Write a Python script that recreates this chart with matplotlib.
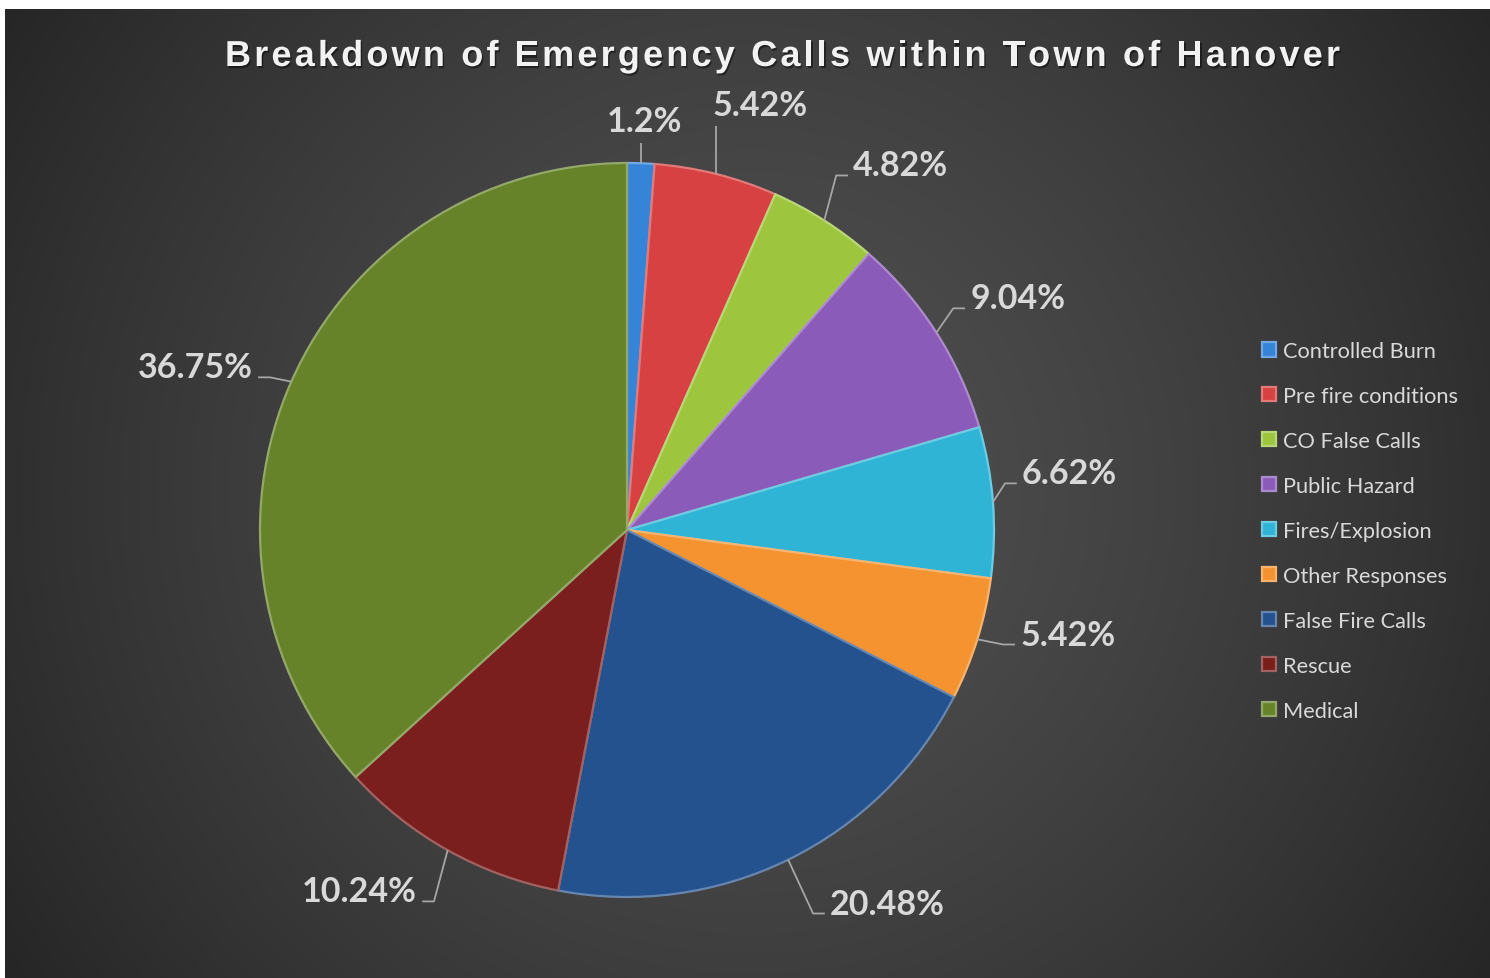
import numpy as np
import matplotlib
matplotlib.use('Agg')
import matplotlib.pyplot as plt
import matplotlib.patheffects as pe
import matplotlib.colors as mcolors
from matplotlib.font_manager import FontProperties, findfont
from matplotlib.ft2font import FT2Font

# ---------------- data ----------------
categories = ['Controlled Burn', 'Pre fire conditions', 'CO False Calls',
              'Public Hazard', 'Fires/Explosion', 'Other Responses',
              'False Fire Calls', 'Rescue', 'Medical']
values = [1.2, 5.42, 4.82, 9.04, 6.62, 5.42, 20.48, 10.24, 36.75]
pct_labels = [f"{v:g}%" for v in values]
colors = ['#3584d8', '#d74141', '#9dc63e', '#8a5bb8', '#2fb4d6',
          '#f59331', '#24528e', '#7b1e1e', '#66832a']
title = 'Breakdown of Emergency Calls within Town of Hanover'

# ---------------- layout ----------------
W, H, DPI = 1490, 979, 100
CX, CY, R = 627, 531, 367          # pie centre / radius in pixels
# label anchor (data units, baseline), horizontal alignment
label_layout = [
    (0.048, 1.086, 'center'),
    (0.362, 1.132, 'center'),
    (0.616, 0.966, 'left'),
    (0.935, 0.604, 'left'),
    (1.076, 0.127, 'left'),
    (1.071, -0.312, 'left'),
    (0.553, -1.045, 'left'),
    (-0.572, -1.012, 'right'),
    (-1.019, 0.416, 'right'),
]
LABEL_FONT = 'Lato'
TEXT_COL = '#d9d9d9'
LINE_COL = '#a6a6a6'

fig = plt.figure(figsize=(W / DPI, H / DPI), dpi=DPI, facecolor='white')

# background radial gradient (white margin top/left)
bg = fig.add_axes([5 / W, 0, (W - 5) / W, (H - 10) / H])
yy, xx = np.mgrid[10:H, 5:W]
rr = np.hypot(xx - 750, (yy - 490) * 1.0) / 886
v = 0x50 - (0x50 - 0x26) * np.clip(rr, 0, 1.1) ** 1.4
v = np.clip(v / 255, 0, 1)
bg.imshow(np.dstack([v, v, v]), aspect='auto', interpolation='bilinear')
bg.axis('off')

ax = fig.add_axes([0, 0, 1, 1])
ax.set_facecolor('none')


def lighten(c, f):
    r, g, b = mcolors.to_rgb(c)
    return (r + (1 - r) * f, g + (1 - g) * f, b + (1 - b) * f)


wedges, _ = ax.pie(values, colors=colors, startangle=90, counterclock=False,
                   radius=1.0, wedgeprops=dict(linewidth=1.6))
for w, c in zip(wedges, colors):
    w.set_edgecolor(lighten(c, 0.3))

ax.set_xlim((0 - CX) / R, (W - CX) / R)
ax.set_ylim((CY - H) / R, CY / R)
ax.set_aspect('auto')
ax.axis('off')

for w, txt, (lx, ly, ha) in zip(wedges, pct_labels, label_layout):
    mid = np.deg2rad((w.theta1 + w.theta2) / 2)
    px, py = np.cos(mid), np.sin(mid)
    ax.text(lx, ly, txt, ha=ha, va='baseline', fontsize=24.5, fontweight='bold',
            family=LABEL_FONT, color=TEXT_COL)
    if ha == 'center':
        xs, ys = [px, px], [py, ly - 0.031]
    elif ha == 'left':
        xs, ys = [px, lx - 0.046, lx - 0.014], [py, ly, ly]
    else:
        xs, ys = [px, lx + 0.046, lx + 0.014], [py, ly, ly]
    ax.plot(xs, ys, color=LINE_COL, lw=1.3, solid_capstyle='butt')

# ---------------- title with letter spacing ----------------
TSIZE = 26
fp = FontProperties(family='Liberation Sans', weight='bold', size=TSIZE)
font = FT2Font(findfont(fp))
font.set_size(TSIZE, DPI)
advs = []
for ch in title:
    g = font.load_char(ord(ch))
    advs.append(g.linearHoriAdvance / 65536)
T_LEFT, T_WIDTH, T_BASE = 225, 1115, 67
spacing = (T_WIDTH - sum(advs)) / (len(title) - 1)
x = T_LEFT
shadow = [pe.withSimplePatchShadow(offset=(1.0, -1.5), shadow_rgbFace='black', alpha=0.45)]
for ch, a in zip(title, advs):
    if ch != ' ':
        fig.text(x / W, 1 - T_BASE / H, ch, fontproperties=fp, color='#f2f2f2',
                 ha='left', va='baseline', path_effects=shadow)
    x += a + spacing

# ---------------- legend ----------------
leg = fig.legend(wedges, categories, loc='center left',
                 bbox_to_anchor=(1262 / W, 1 - 532 / H), frameon=False,
                 prop=FontProperties(family=LABEL_FONT, size=15.7),
                 labelcolor=TEXT_COL, handlelength=0.62, handleheight=0.62,
                 handletextpad=0.33, labelspacing=1.145, borderpad=0,
                 borderaxespad=0)

fig.savefig('out.png', dpi=DPI, facecolor='white')
